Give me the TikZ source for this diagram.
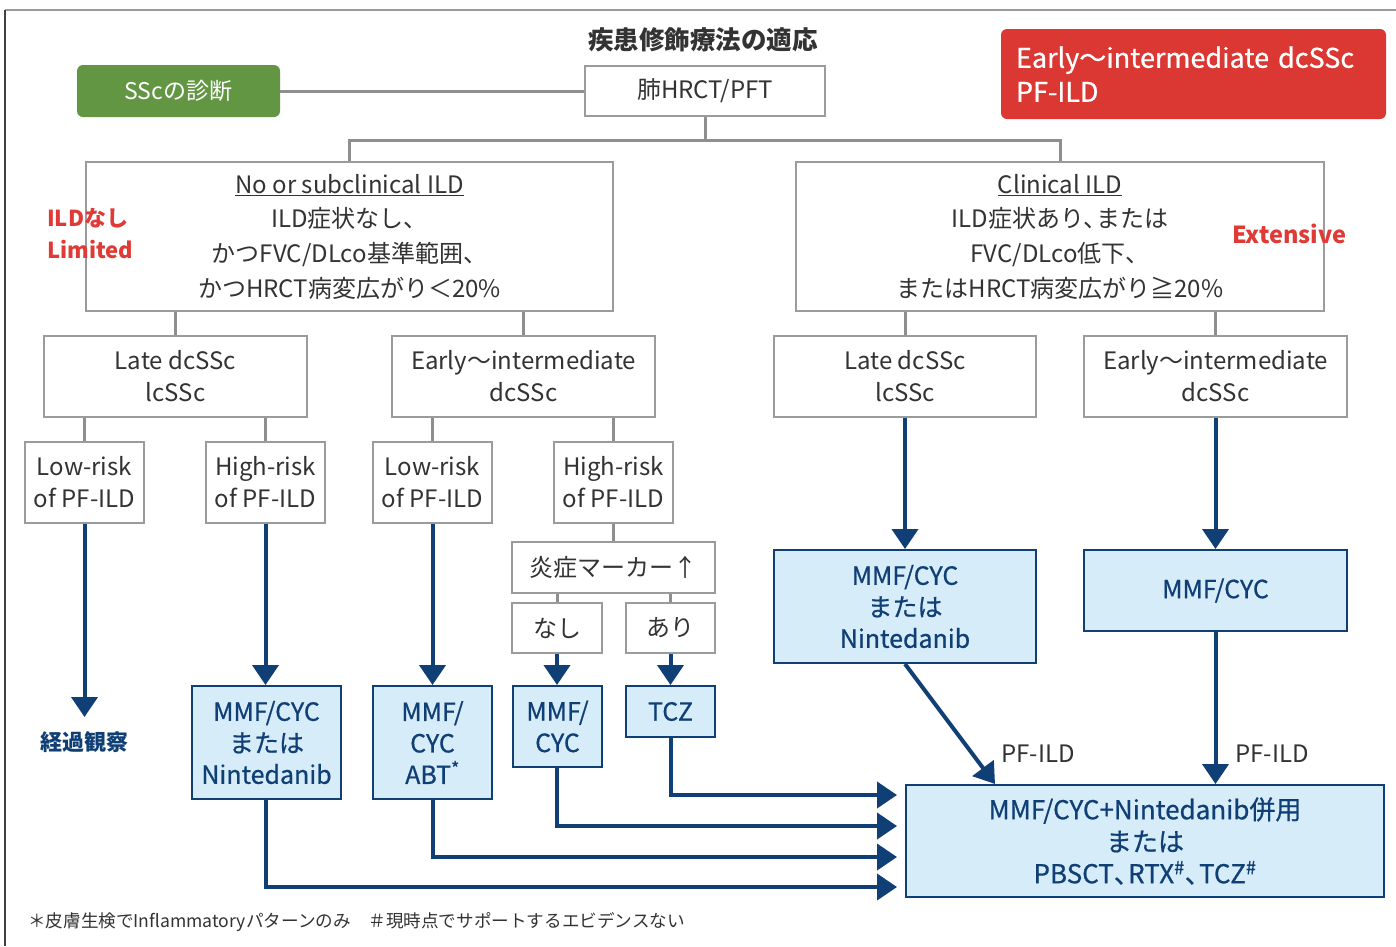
\documentclass[tikz,border=0pt]{standalone}
\usepackage{fontspec}
\setmainfont{Noto Sans CJK JP}
\newfontfamily\medfont[FakeBold=0.7]{Noto Sans CJK JP}
\newcommand{\tten}{、\kern-0.45em}
\usetikzlibrary{arrows.meta}
\definecolor{txt}{HTML}{333333}
\definecolor{gborder}{HTML}{9B9B9B}
\definecolor{glinec}{HTML}{8E8E8E}
\definecolor{bdark}{HTML}{103F76}
\definecolor{bfill}{HTML}{D6ECF9}
\definecolor{redbox}{HTML}{DC3833}
\definecolor{redtxt}{HTML}{E03A36}
\definecolor{greenbox}{HTML}{629643}
\tikzset{
  gbox/.style={draw=gborder, line width=2pt, fill=white, text=txt, align=center, inner sep=0pt,
    font=\fontsize{24}{32}\selectfont},
  bbox/.style={draw=bdark, line width=2pt, fill=bfill, text=bdark, align=center, inner sep=0pt,
    font=\medfont\fontsize{25}{31.5}\selectfont},
  glink/.style={draw=glinec, line width=3pt},
  blink/.style={draw=bdark, line width=4pt, -{Triangle[width=26pt,length=20pt]}},
  redlbl/.style={text=redtxt, font=\fontsize{23.5}{32}\selectfont\bfseries, inner sep=0pt},
}
\begin{document}
\begin{tikzpicture}[x=1pt,y=-1pt]
\useasboundingbox (0,0) rectangle (1396,946);
\fill[white] (0,0) rectangle (1396,946);
% frame
\draw[gborder, line width=2pt] (5,10) -- (1396,10);
\draw[black!75, line width=1.2pt] (5,10) -- (5,946);

\node[text=txt, font=\fontsize{25.5}{30}\selectfont\bfseries] (title) at (703,40) {疾患修飾療法の適応};
\node[fill=greenbox, rounded corners=6pt, minimum width=203pt, minimum height=52pt, text=white,
  font=\fontsize{23}{30}\selectfont, inner sep=0pt] (ssc) at (178.5,91) {SScの診断};
\node[gbox, minimum width=240pt, minimum height=50pt] (hrct) at (705,91) {肺HRCT/PFT};
\node[fill=redbox, rounded corners=6pt, minimum width=385pt, minimum height=90pt, text=white,
  font=\medfont\fontsize{27}{34}\selectfont, align=left, text width=355pt, inner sep=0pt] (red) at (1193.5,74)
  {Early～intermediate dcSSc\\PF-ILD};

\node[gbox, minimum width=527pt, minimum height=149pt, font=\fontsize{24}{34.7}\selectfont] (nosub) at (349.5,236.5)
  {\underline{No or subclinical ILD}\\ILD症状なし、\\かつFVC/DLco基準範囲、\\かつHRCT病変広がり＜20\%};
\node[gbox, minimum width=528pt, minimum height=149pt, font=\fontsize{24}{34.7}\selectfont] (clin) at (1060,236.5)
  {\underline{Clinical ILD}\\ILD症状あり\tten または\\FVC/DLco低下、\\またはHRCT病変広がり≧20\%};
\node[redlbl, align=left, anchor=west, font=\fontsize{22}{32}\selectfont\bfseries] (ildnashi) at (47,234) {ILDなし\\Limited};
\node[redlbl, anchor=west] (ext) at (1232,234) {Extensive};

\node[gbox, minimum width=263pt, minimum height=81pt] (late1) at (175.5,376.5) {Late dcSSc\\lcSSc};
\node[gbox, minimum width=263pt, minimum height=81pt] (early1) at (523.5,376.5) {Early～intermediate\\dcSSc};
\node[gbox, minimum width=262pt, minimum height=81pt] (late2) at (905,376.5) {Late dcSSc\\lcSSc};
\node[gbox, minimum width=263pt, minimum height=81pt] (early2) at (1215.5,376.5) {Early～intermediate\\dcSSc};

\node[gbox, minimum width=119pt, minimum height=81pt] (lr1) at (84.5,482.5) {Low-risk\\of PF-ILD};
\node[gbox, minimum width=119pt, minimum height=81pt] (hr1) at (265.5,482.5) {High-risk\\of PF-ILD};
\node[gbox, minimum width=119pt, minimum height=81pt] (lr2) at (432.5,482.5) {Low-risk\\of PF-ILD};
\node[gbox, minimum width=119pt, minimum height=81pt] (hr2) at (613.5,482.5) {High-risk\\of PF-ILD};

\node[gbox, minimum width=203pt, minimum height=51pt] (marker) at (613.5,567.5) {炎症マーカー↑};
\node[gbox, minimum width=90pt, minimum height=50pt] (nashi) at (557,628) {なし};
\node[gbox, minimum width=89pt, minimum height=50pt] (ari) at (670.5,628) {あり};

\coordinate (obsTip) at (84.5,717);
\node[text=bdark, font=\fontsize{22}{30}\selectfont\bfseries, inner sep=0pt] (obs) at (84.5,742) {経過観察};

\node[bbox, minimum width=149pt, minimum height=113pt] (t1) at (266.5,742.5) {MMF/CYC\\または\\Nintedanib};
\node[bbox, minimum width=119pt, minimum height=113pt] (t2) at (432.5,742.5) {MMF/\\CYC\\ABT\textsuperscript{*}};
\node[bbox, minimum width=89pt, minimum height=81pt] (t3) at (557.5,726.5) {MMF/\\CYC};
\node[bbox, minimum width=89pt, minimum height=51pt] (t4) at (670.5,711.5) {TCZ};
\node[bbox, minimum width=262pt, minimum height=113pt] (t5) at (905,606.5) {MMF/CYC\\または\\Nintedanib};
\node[bbox, minimum width=263pt, minimum height=81pt] (t6) at (1215.5,590.5) {MMF/CYC};
\node[bbox, minimum width=478pt, minimum height=112pt, font=\medfont\fontsize{26}{32}\selectfont] (fin) at (1145,841)
  {MMF/CYC+Nintedanib併用\\または\\PBSCT\tten RTX\textsuperscript{\#}\tten TCZ\textsuperscript{\#}};

\node[text=txt, font=\fontsize{24}{30}\selectfont, inner sep=0pt] (pf1) at (1038,754) {PF-ILD};
\node[text=txt, font=\fontsize{24}{30}\selectfont, inner sep=0pt] (pf2) at (1272,754) {PF-ILD};

\node[text=txt, font=\fontsize{17.6}{22}\selectfont, anchor=west, inner sep=0pt] (foot) at (28,922)
  {＊皮膚生検でInflammatoryパターンのみ　＃現時点でサポートするエビデンスない};

% gray connectors
\coordinate (split) at (705,140);
\draw[glink] (ssc.east) -- (hrct.west);
\draw[glink] (hrct.south) -- (split) -| (nosub.north);
\draw[glink] (split) -| (clin.north);
\draw[glink] (late1.north |- nosub.south) -- (late1.north);
\draw[glink] (early1.north |- nosub.south) -- (early1.north);
\draw[glink] (late2.north |- clin.south) -- (late2.north);
\draw[glink] (early2.north |- clin.south) -- (early2.north);
\draw[glink] (lr1.north |- late1.south) -- (lr1.north);
\draw[glink] (hr1.north |- late1.south) -- (hr1.north);
\draw[glink] (lr2.north |- early1.south) -- (lr2.north);
\draw[glink] (hr2.north |- early1.south) -- (hr2.north);
\draw[glink] (hr2.south) -- (marker.north);
\draw[glink] (nashi.north |- marker.south) -- (nashi.north);
\draw[glink] (ari.north |- marker.south) -- (ari.north);

% blue connectors
\draw[blink] (lr1.south) -- (obsTip);
\draw[blink] (hr1.south) -- (t1.north -| hr1.south);
\draw[blink] (lr2.south) -- (t2.north);
\draw[blink] (nashi.south) -- (t3.north -| nashi.south);
\draw[blink] (ari.south) -- (t4.north);
\draw[blink] (late2.south) -- (t5.north);
\draw[blink] (early2.south) -- (t6.north);
\draw[blink] (t5.south) -- ([xshift=90pt]fin.north west);
\draw[blink] (t6.south) -- (fin.north -| t6.south);
\draw[blink, shorten >=8pt] (t4.south) |- ([yshift=46pt]fin.west);
\draw[blink, shorten >=8pt] (t3.south -| nashi.south) |- ([yshift=15pt]fin.west);
\draw[blink, shorten >=8pt] (t2.south) |- ([yshift=-16pt]fin.west);
\draw[blink, shorten >=8pt] (t1.south -| hr1.south) |- ([yshift=-46pt]fin.west);
\end{tikzpicture}
\end{document}
